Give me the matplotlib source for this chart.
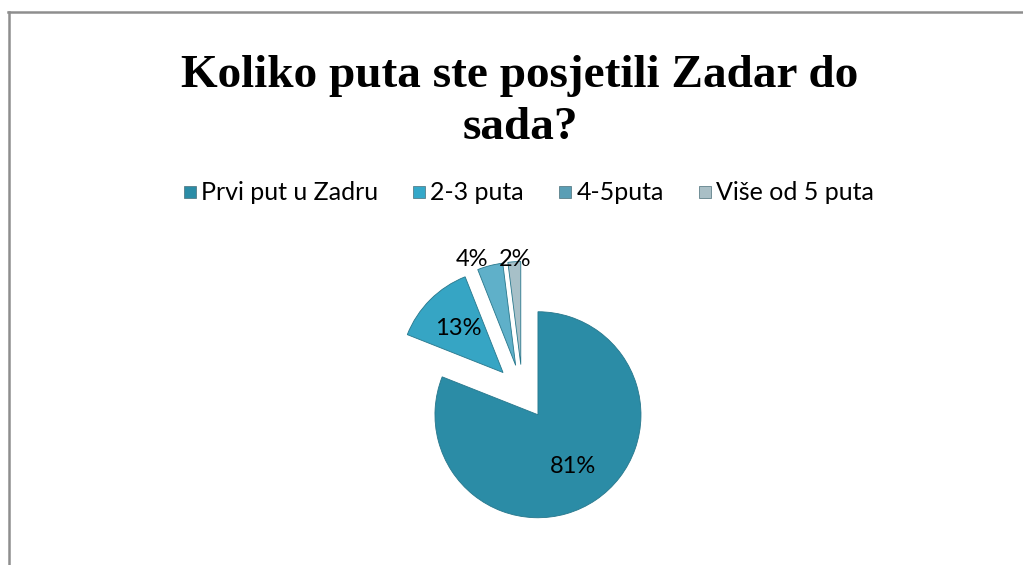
import matplotlib
matplotlib.use("Agg")
import matplotlib.pyplot as plt
from matplotlib.lines import Line2D

title = "Koliko puta ste posjetili Zadar do\nsada?"
categories = ["Prvi put u Zadru", "2-3 puta", "4-5puta", "Više od 5 puta"]
values = [81, 13, 4, 2]
colors = ["#2B8CA6", "#36A5C4", "#5FB0C9", "#A7C0C8"]
legend_colors = ["#2B8CA6", "#34A8C9", "#5A9EB5", "#A9BFC6"]

W, H = 1023, 565
fig = plt.figure(figsize=(W / 100, H / 100), dpi=100)
fig.patch.set_facecolor("white")

# frame lines (top + left)
fig.add_artist(Line2D([8 / W, 1.0], [1 - 12 / H, 1 - 12 / H], color="#8E8E8E", lw=1.8,
                      transform=fig.transFigure))
fig.add_artist(Line2D([9 / W, 9 / W], [1 - 12 / H, 0], color="#8E8E8E", lw=1.8,
                      transform=fig.transFigure))

fig.text(520 / W, 1 - 102 / H, title, ha="center", va="center", fontsize=34,
         fontweight="bold", family="Liberation Serif", linespacing=1.3)

# pie axes: centre at (522.5, 392) px, radius 103 px
side = 309
cx, cy = 522.5, H - 392
ax = fig.add_axes([(cx - side / 2) / W, (cy - side / 2) / H, side / W, side / H])

wedges, texts, autotexts = ax.pie(
    values, colors=colors, startangle=90, counterclock=False,
    explode=[0.267] * 4, autopct="%d%%", pctdistance=0.61,
    wedgeprops=dict(edgecolor="#27778C", linewidth=0.6),
    textprops=dict(fontsize=17, family="Lato", color="black"),
    radius=1.0)
ax.set_xlim(-1.5, 1.5)
ax.set_ylim(-1.5, 1.5)
ax.set_aspect("auto")
ax.axis("off")
for w in wedges:
    w.set_clip_on(False)
# outside labels for small slices
autotexts[2].set_position((-0.49, 1.29))
autotexts[3].set_position((-0.07, 1.29))
for t in autotexts:
    t.set_clip_on(False)

handles = [Line2D([], [], marker="s", linestyle="none", markersize=9,
                  markerfacecolor=c, markeredgecolor="#4A6E78", markeredgewidth=0.5)
           for c in legend_colors]
fig.legend(handles, categories, loc="center", bbox_to_anchor=(527 / W, 1 - 193 / H),
           ncol=4, frameon=False, prop=dict(family="Lato", size=18),
           handletextpad=0.05, columnspacing=1.25, handlelength=0.8)

fig.savefig("out.png", dpi=100)
